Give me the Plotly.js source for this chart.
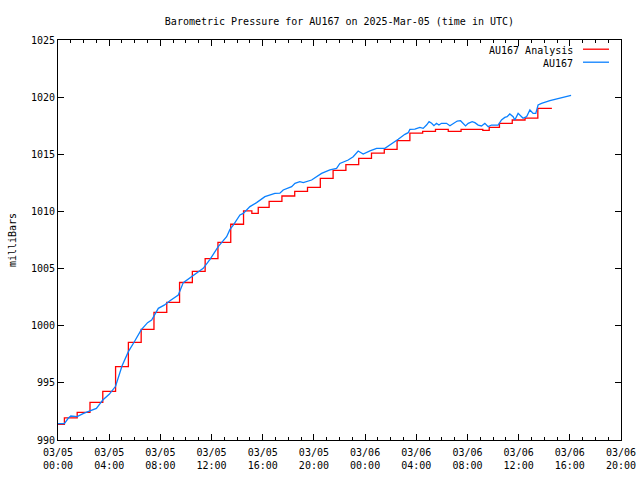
<!DOCTYPE html>
<html>
<head>
<meta charset="utf-8">
<script src="https://cdn.plot.ly/plotly-3.0.1.min.js"></script>
<style>html,body{margin:0;padding:0;background:#fff;}#chart{width:640px;height:480px;}</style>
</head>
<body>
<div id="chart"></div>
<script>
// Hours after 2025-03-05 00:00 UTC
const analysisHours = [0,1,2,3,4,5,6,7,8,9,10,11,12,13,14,15,15.3,16,17,18,19,20,21,22,23,24,25,26,27,28,29,30,31,32,33,33.4,34,35,36,37,38,38.6];
const analysisValues = [991.37,991.93,992.42,993.29,994.26,996.42,998.55,999.68,1001.17,1002.05,1003.78,1004.75,1005.87,1007.3,1008.88,1010.04,1009.83,1010.36,1010.88,1011.35,1011.76,1012.11,1012.9,1013.6,1014.09,1014.65,1015.1,1015.43,1016.2,1016.86,1017.0,1017.18,1017.0,1017.18,1017.18,1017.1,1017.36,1017.71,1018.0,1018.17,1019.02,1019.02];

const obsHours = [0,0.5,0.8,1.0,1.5,2.0,2.5,3.0,3.3,3.5,4.0,4.5,5.0,5.5,6.0,6.5,7.0,7.32,7.84,8.3,8.75,9.4,9.79,10.2,10.57,11.35,11.88,12.52,13.18,13.44,13.7,14.22,14.48,15.0,15.52,16.17,16.95,17.34,17.6,18.26,18.52,18.9,19.17,19.82,20.6,21.25,21.77,22.03,22.68,23.07,23.46,23.85,24.38,24.9,25.55,26.07,26.59,27.11,27.37,27.5,27.89,28.28,28.54,28.8,29.0,29.2,29.38,29.58,29.77,29.97,30.36,30.63,30.89,31.2,31.46,31.67,31.85,32.06,32.37,32.58,32.84,33.1,33.36,33.62,33.88,34.4,34.66,34.92,35.1,35.31,35.57,35.7,35.96,36.23,36.35,36.62,36.88,37.13,37.34,37.52,37.79,38.44,39.09,39.6,40.1];
const obsValues = [991.43,991.43,991.9,992.1,992.04,992.33,992.54,992.77,993.2,993.5,994.0,994.7,996.47,997.73,998.66,999.63,1000.27,1000.5,1001.52,1001.8,1002.19,1002.69,1003.77,1004.1,1004.44,1005.02,1005.8,1006.92,1007.79,1008.43,1008.81,1009.69,1009.83,1010.42,1010.77,1011.29,1011.58,1011.6,1011.88,1012.17,1012.46,1012.6,1012.52,1012.75,1013.33,1013.63,1013.77,1014.2,1014.5,1014.79,1015.29,1015.02,1015.29,1015.52,1015.52,1015.9,1016.31,1016.75,1016.89,1017.18,1017.21,1017.36,1017.27,1017.56,1017.85,1017.71,1017.5,1017.71,1017.56,1017.71,1017.71,1017.5,1017.71,1017.91,1017.94,1017.71,1017.48,1017.71,1017.85,1017.77,1017.56,1017.48,1017.71,1017.42,1017.56,1017.56,1018.0,1018.23,1018.29,1018.53,1018.29,1018.0,1018.58,1018.29,1018.15,1018.29,1018.88,1018.58,1018.58,1019.31,1019.46,1019.69,1019.9,1020.05,1020.16];

const seriesNames = ["AU167 Analysis", "AU167"];
const seriesColors = ["#ff0000", "#0a80ff"];
const titleText = "Barometric Pressure for AU167 on 2025-Mar-05 (time in UTC)";
const yTitle = "milliBars";
const startTime = Date.UTC(2025, 2, 5, 0, 0);
const xRange = ["2025-03-05 00:00", "2025-03-06 20:00"];
const yRange = [990, 1025];

function toDate(h) {
  const d = new Date(startTime + h * 3600000);
  return d.toISOString().replace("T", " ").slice(0, 19);
}

const font = "DejaVu Sans Mono, Liberation Mono, monospace";

const traces = [
  {
    x: analysisHours.map(toDate), y: analysisValues, type: "scatter", mode: "lines",
    line: {color: seriesColors[0], width: 1.3, shape: "hvh"}, name: seriesNames[0], showlegend: false
  },
  {
    x: obsHours.map(toDate), y: obsValues, type: "scatter", mode: "lines",
    line: {color: seriesColors[1], width: 1.3}, name: seriesNames[1], showlegend: false
  }
];

const legendY = [0.975, 0.9425];
const annotations = seriesNames.map((n, i) => ({
  xref: "paper", yref: "paper", x: 0.918, y: legendY[i], text: n, showarrow: false,
  xanchor: "right", yanchor: "middle", font: {family: font, size: 10, color: "#000"}
}));
const shapes = seriesNames.map((n, i) => ({
  type: "line", xref: "paper", yref: "paper", x0: 0.9325, x1: 0.9787, y0: legendY[i] + 0.002, y1: legendY[i] + 0.002,
  line: {color: seriesColors[i], width: 1.3}
}));

const layout = {
  width: 640, height: 480,
  margin: {l: 58, r: 19, t: 40, b: 40},
  paper_bgcolor: "#fff", plot_bgcolor: "#fff",
  font: {family: font, size: 10, color: "#000"},
  title: {text: titleText, x: 0.5304, xanchor: "center", y: 0.956, yanchor: "middle", font: {family: font, size: 10, color: "#000"}},
  showlegend: false,
  xaxis: {
    type: "date", range: xRange, dtick: 4 * 3600000, tick0: "2025-03-05 00:00",
    tickformat: "%m/%d<br>%H:%M", ticks: "inside", ticklen: 6, tickcolor: "#000", tickwidth: 1,
    ticklabelstandoff: 3,
    showline: true, linecolor: "#000", linewidth: 1, mirror: "allticks",
    showgrid: false, zeroline: false,
    minor: {ticks: "inside", ticklen: 3, dtick: 3600000, tickcolor: "#000", showgrid: false},
    tickfont: {family: font, size: 10, color: "#000"}
  },
  yaxis: {
    range: yRange, dtick: 5, tick0: 990, ticks: "inside", ticklen: 6, tickcolor: "#000", tickwidth: 1,
    showline: true, linecolor: "#000", linewidth: 1, mirror: "allticks",
    showgrid: false, zeroline: false,
    title: {text: yTitle, standoff: 12, font: {family: font, size: 10, color: "#000"}},
    tickfont: {family: font, size: 10, color: "#000"}
  },
  annotations: annotations,
  shapes: shapes
};

Plotly.newPlot("chart", traces, layout, {staticPlot: true, displayModeBar: false});
</script>
</body>
</html>
